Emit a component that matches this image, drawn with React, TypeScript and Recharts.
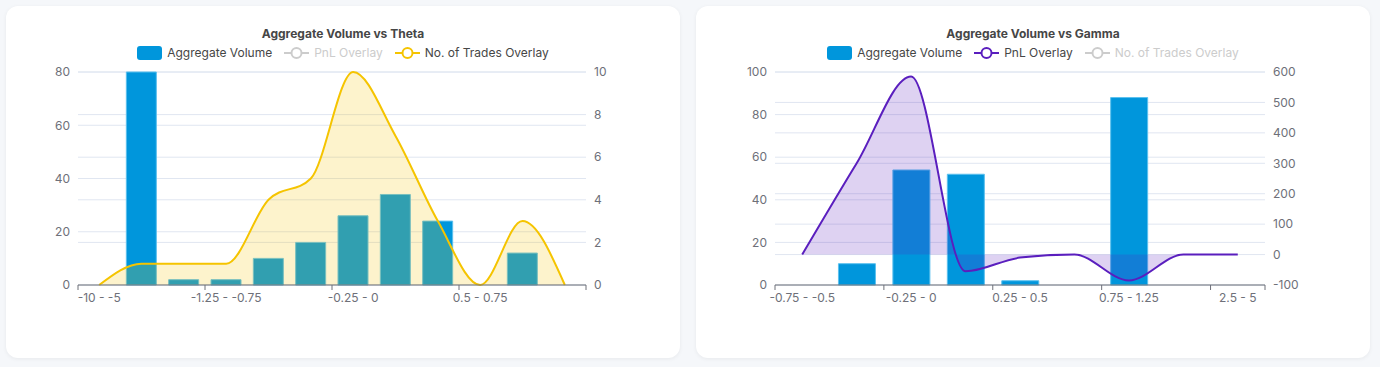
import React from 'react';
import { ComposedChart, Bar, Area, XAxis, YAxis, CartesianGrid } from 'recharts';

// Theta histogram buckets
const thetaBuckets = [
  '-10 - -5', '-5 - -2.5', '-2.5 - -1.25', '-1.25 - -0.75', '-0.75 - -0.5', '-0.5 - -0.25',
  '-0.25 - 0', '0 - 0.25', '0.25 - 0.5', '0.5 - 0.75', '0.75 - 1.25', '1.25 - 2.5',
];
const thetaVolume = [0, 80, 2, 2, 10, 16, 26, 34, 24, 0, 12, 0];
const thetaTrades = [0, 1, 1, 1, 4, 5, 10, 7, 3, 0, 3, 0];
const thetaLeftTicks = [0, 20, 40, 60, 80];
const thetaRightTicks = [0, 2, 4, 6, 8, 10];

// Gamma histogram buckets
const gammaBuckets = [
  '-0.75 - -0.5', '-0.5 - -0.25', '-0.25 - 0', '0 - 0.25', '0.25 - 0.5',
  '0.5 - 0.75', '0.75 - 1.25', '1.25 - 2.5', '2.5 - 5',
];
const gammaVolume = [0, 10, 54, 52, 2, 0, 88, 0, 0];
const gammaPnl = [0, 300, 585, -55, -10, 0, -85, 0, 0];
const gammaLeftTicks = [0, 20, 40, 60, 80, 100];
const gammaRightTicks = [-100, 0, 100, 200, 300, 400, 500, 600];

const thetaData = thetaBuckets.map((bucket, i) => ({ bucket, volume: thetaVolume[i], trades: thetaTrades[i] }));
const gammaData = gammaBuckets.map((bucket, i) => ({ bucket, volume: gammaVolume[i], pnl: gammaPnl[i] }));

const BLUE = '#0096DC';
const YELLOW = '#F5C400';
const PURPLE = '#5A1EBE';
const AXIS = '#6E7079';
const GRID = '#E0E6F1';
const MUTED = '#CCCCCC';

const CARD_W = 674;
const CARD_H = 352;

// category axis: ticks on bucket boundaries, label every `step` buckets
function boundaryTick(step: number, count: number, band: number) {
  return (props: any) => {
    const { x, y, payload, index } = props;
    const half = band / 2;
    const top = y - 8;
    const show = index % step === 0;
    return (
      <g>
        {show && <line x1={x - half} x2={x - half} y1={top} y2={top + 5} stroke={AXIS} />}
        {index === count - 1 && <line x1={x + half} x2={x + half} y1={top} y2={top + 5} stroke={AXIS} />}
        {show && (
          <text x={x} y={y} dy="0.71em" textAnchor="middle" fill={AXIS} fontSize={12}>
            {payload.value}
          </text>
        )}
      </g>
    );
  };
}

type LegendItem = { label: string; kind: 'rect' | 'line'; color: string; muted?: boolean };

function ChartLegend({ items }: { items: LegendItem[] }) {
  return (
    <div style={{ position: 'absolute', top: 40, left: 0, width: CARD_W, display: 'flex', justifyContent: 'center', gap: 12, fontSize: 12, lineHeight: '14px' }}>
      {items.map((it) => {
        const c = it.muted ? MUTED : it.color;
        return (
          <div key={it.label} style={{ display: 'flex', alignItems: 'center', gap: 5, color: it.muted ? MUTED : '#464646' }}>
            {it.kind === 'rect' ? (
              <div style={{ width: 25, height: 14, borderRadius: 3, background: c }} />
            ) : (
              <svg width={25} height={14}>
                <line x1={0} x2={25} y1={7} y2={7} stroke={c} strokeWidth={2} />
                <circle cx={12.5} cy={7} r={5} fill="#fff" stroke={c} strokeWidth={2} />
              </svg>
            )}
            <span>{it.label}</span>
          </div>
        );
      })}
    </div>
  );
}

function Card({ left, title, children }: { left: number; title: string; children: React.ReactNode }) {
  return (
    <div style={{ position: 'absolute', left, top: 6, width: CARD_W, height: CARD_H, background: '#fff', borderRadius: 12, boxShadow: '0 1px 4px rgba(0,0,0,0.06)' }}>
      <div style={{ position: 'absolute', top: 20, width: CARD_W, textAlign: 'center', fontSize: 12, fontWeight: 700, color: '#464646' }}>
        {title}
      </div>
      {children}
    </div>
  );
}

export default function App() {
  const thetaMargin = { top: 66, right: 34, bottom: 43, left: 12 };
  const gammaMargin = { top: 66, right: 45, bottom: 43, left: 19 };
  const thetaBand = (CARD_W - thetaMargin.left - thetaMargin.right - 120) / thetaBuckets.length;
  const gammaBand = (CARD_W - gammaMargin.left - gammaMargin.right - 120) / gammaBuckets.length;

  return (
    <div style={{ position: 'fixed', left: 0, top: 0, width: 1380, height: 367, background: '#F5F7FA', fontFamily: 'Inter, sans-serif' }}>
      <Card left={6} title="Aggregate Volume vs Theta">
        <ChartLegend
          items={[
            { label: 'Aggregate Volume', kind: 'rect', color: BLUE },
            { label: 'PnL Overlay', kind: 'line', color: PURPLE, muted: true },
            { label: 'No. of Trades Overlay', kind: 'line', color: YELLOW },
          ]}
        />
        <div style={{ position: 'absolute', left: 0, top: 0 }}>
          <ComposedChart width={CARD_W} height={CARD_H} data={thetaData} margin={thetaMargin}>
            <CartesianGrid yAxisId="left" vertical={false} stroke={GRID} />
            <CartesianGrid yAxisId="right" vertical={false} stroke={GRID} />
            <XAxis dataKey="bucket" interval={0} tickLine={false} tickSize={5} tickMargin={3} axisLine={{ stroke: AXIS }} tick={boundaryTick(3, thetaBuckets.length, thetaBand)} />
            <YAxis yAxisId="left" domain={[0, 80]} ticks={thetaLeftTicks} axisLine={false} tickLine={false} tick={{ fill: AXIS, fontSize: 12 }} width={60} />
            <YAxis yAxisId="right" orientation="right" domain={[0, 10]} ticks={thetaRightTicks} axisLine={false} tickLine={false} tick={{ fill: AXIS, fontSize: 12 }} width={60} />
            <Bar yAxisId="left" dataKey="volume" fill={BLUE} stroke="#5BC0EE" strokeWidth={1} barSize={30} isAnimationActive={false} />
            <Area yAxisId="right" type="monotone" dataKey="trades" stroke={YELLOW} strokeWidth={2} fill={YELLOW} fillOpacity={0.2} baseValue={0} dot={false} activeDot={false} zIndex={350} isAnimationActive={false} />
          </ComposedChart>
        </div>
      </Card>
      <Card left={696} title="Aggregate Volume vs Gamma">
        <ChartLegend
          items={[
            { label: 'Aggregate Volume', kind: 'rect', color: BLUE },
            { label: 'PnL Overlay', kind: 'line', color: PURPLE },
            { label: 'No. of Trades Overlay', kind: 'line', color: YELLOW, muted: true },
          ]}
        />
        <div style={{ position: 'absolute', left: 0, top: 0 }}>
          <ComposedChart width={CARD_W} height={CARD_H} data={gammaData} margin={gammaMargin}>
            <CartesianGrid yAxisId="left" vertical={false} stroke={GRID} />
            <CartesianGrid yAxisId="right" vertical={false} stroke={GRID} />
            <XAxis dataKey="bucket" interval={0} tickLine={false} tickSize={5} tickMargin={3} axisLine={{ stroke: AXIS }} tick={boundaryTick(2, gammaBuckets.length, gammaBand)} />
            <YAxis yAxisId="left" domain={[0, 100]} ticks={gammaLeftTicks} axisLine={false} tickLine={false} tick={{ fill: AXIS, fontSize: 12 }} width={60} />
            <YAxis yAxisId="right" orientation="right" domain={[-100, 600]} ticks={gammaRightTicks} axisLine={false} tickLine={false} tick={{ fill: AXIS, fontSize: 12 }} width={60} />
            <Bar yAxisId="left" dataKey="volume" fill={BLUE} stroke="#5BC0EE" strokeWidth={1} barSize={37} isAnimationActive={false} />
            <Area yAxisId="right" type="monotone" dataKey="pnl" stroke={PURPLE} strokeWidth={2} fill={PURPLE} fillOpacity={0.2} baseValue={0} dot={false} activeDot={false} zIndex={350} isAnimationActive={false} />
          </ComposedChart>
        </div>
      </Card>
    </div>
  );
}
